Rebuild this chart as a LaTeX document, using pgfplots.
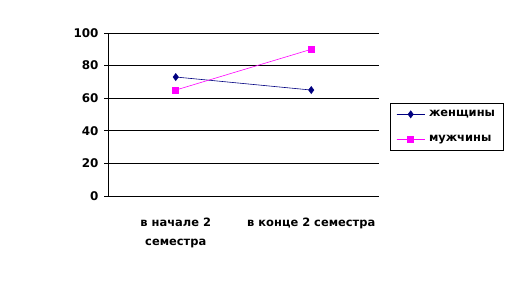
\documentclass[border=0pt]{standalone}
\usepackage{pgfplots}
\pgfplotsset{compat=1.18}
\usepackage{fontspec}
\setmainfont{DejaVu Sans}
\definecolor{navyc}{RGB}{0,0,128}
\definecolor{magc}{RGB}{255,0,255}
\begin{document}
\begin{tikzpicture}[x=1bp,y=1bp]
\path[use as bounding box] (0,0) rectangle (517,303);
\begin{axis}[
  at={(108bp,107bp)}, anchor=south west,
  scale only axis, width=271bp, height=163bp,
  xmin=0, xmax=2, ymin=0, ymax=100,
  axis x line*=bottom, axis y line*=left,
  axis line style={black, line width=0.8pt, -},
  xtick={0.5,1.5},
  xticklabels={{в начале 2\\семестра},{в конце 2 семестра}},
  major x tick style={draw=none},
  extra x ticks={0,1,2}, extra x tick labels={},
  extra x tick style={major tick length=4bp, tick style={black, line width=0.8pt}, tick align=outside, grid=none},
  ytick={0,20,...,100},
  ymajorgrids, major grid style={black, line width=0.8pt},
  tick align=outside, major tick length=4bp,
  major y tick style={black, line width=0.8pt},
  xticklabel style={font=\bfseries\fontsize{11.5}{20}\selectfont, align=center, yshift=-14bp},
  yticklabel style={font=\bfseries\fontsize{12}{12}\selectfont, xshift=-2bp},
  /pgf/number format/assume math mode=true,
  legend style={at={(1.0406,0.5706)}, anchor=north west, draw=black, line width=0.8pt, fill=white,
    font=\bfseries\fontsize{11.5}{12}\selectfont, row sep=13bp, inner xsep=6bp, inner ysep=5bp,
    /tikz/every even column/.append style={column sep=0bp}},
  legend cell align=left,
  legend image code/.code={\draw[#1, line width=0.6pt] (0bp,0bp) -- (28bp,0bp); \draw[#1, mark repeat=2, mark phase=2] plot coordinates {(0bp,0bp) (14bp,0bp) (28bp,0bp)};},
  clip=false,
]
\addplot[navyc, line width=0.6pt, mark=diamond*, mark size=3.5bp, mark options={fill=navyc, draw=navyc}] coordinates {(0.5,73) (1.5,65)};
\addlegendentry{\hspace{2bp}женщины\hspace{3bp}}
\addplot[magc, line width=0.6pt, mark=square*, mark size=3bp, mark options={fill=magc, draw=magc}] coordinates {(0.5,65) (1.5,90)};
\addlegendentry{\hspace{2bp}мужчины}
\end{axis}
\end{tikzpicture}
\end{document}
